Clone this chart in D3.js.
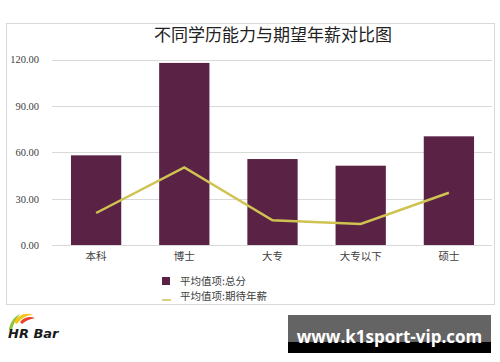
<!DOCTYPE html>
<html><head><meta charset="utf-8">
<script src="https://cdn.jsdelivr.net/npm/d3@7"></script>
<style>html,body{margin:0;padding:0;background:#fff;}svg{display:block;}</style>
</head><body>
<svg id="c" width="500" height="362"></svg>
<script>
const categories = ["本科", "博士", "大专", "大专以下", "硕士"];
const totalScore = [58.0, 117.8, 55.6, 51.3, 70.3];
const expectedSalary = [20.7, 50.2, 16.0, 13.6, 33.8];
const yTicks = [0, 30, 60, 90, 120];
const title = "不同学历能力与期望年薪对比图";
const legendLabels = ["平均值项:总分", "平均值项:期待年薪"];

const svg = d3.select("#c");
const barColor = "#5a2244", lineColor = "#cfc352";
const serif = "'Liberation Serif','DejaVu Serif',serif";
const cjk = "'Noto Sans CJK SC','Noto Sans CJK JP',sans-serif";

// frame
svg.append("rect").attr("x", 6.5).attr("y", 23.5).attr("width", 488).attr("height", 281)
  .attr("fill", "#fff").attr("stroke", "#d9d9d9").attr("stroke-width", 1);

svg.append("text").attr("x", 273).attr("y", 41).attr("text-anchor", "middle")
  .attr("font-family", cjk).attr("font-size", 17).attr("fill", "#222").text(title);

const x = d3.scaleBand().domain(categories).range([52, 493]).paddingInner(0.43).paddingOuter(0.215);
const y = d3.scaleLinear().domain([0, 120]).range([245, 59.5]);

// grid
svg.append("g").selectAll("line").data(yTicks).join("line")
  .attr("x1", 52).attr("x2", 492).attr("y1", d => Math.round(y(d)) + 0.5).attr("y2", d => Math.round(y(d)) + 0.5)
  .attr("stroke", "#d9d9d9").attr("stroke-width", 1);

// y axis labels
const yAxis = d3.axisLeft(y).tickValues(yTicks).tickFormat(d3.format(".2f")).tickSize(0).tickPadding(0);
const ya = svg.append("g").attr("transform", "translate(39,0)").call(yAxis);
ya.select(".domain").remove();
ya.selectAll("text").attr("font-family", serif).attr("font-size", 10.5).attr("fill", "#404040");

// bars
svg.append("g").selectAll("rect").data(categories).join("rect")
  .attr("x", d => x(d)).attr("width", x.bandwidth())
  .attr("y", (d, i) => y(totalScore[i])).attr("height", (d, i) => y(0) - y(totalScore[i]))
  .attr("fill", barColor);

// line
const line = d3.line().x((d, i) => x(categories[i]) + x.bandwidth() / 2).y(d => y(d));
svg.append("path").datum(expectedSalary).attr("d", line).attr("fill", "none")
  .attr("stroke", lineColor).attr("stroke-width", 2.5).attr("stroke-linejoin", "miter");

// x axis labels
const xAxis = d3.axisBottom(x).tickSize(0).tickPadding(0);
const xa = svg.append("g").attr("transform", "translate(0,253)").call(xAxis);
xa.select(".domain").remove();
xa.selectAll("text").attr("font-family", cjk).attr("font-size", 10.5).attr("fill", "#404040").attr("dy", "0.71em");

// legend
const lg = svg.append("g");
lg.append("rect").attr("x", 162).attr("y", 277).attr("width", 8).attr("height", 8).attr("fill", barColor);
lg.append("line").attr("x1", 162).attr("x2", 171).attr("y1", 300).attr("y2", 300).attr("stroke", lineColor).attr("stroke-width", 1.5);
lg.selectAll("text").data(legendLabels).join("text")
  .attr("x", 180).attr("y", (d, i) => 285 + i * 15)
  .attr("font-family", cjk).attr("font-size", 10.5).attr("fill", "#404040").text(d => d);

// logo
const logo = svg.append("g");
logo.append("path").attr("d", "M9,330 C10,322 14,317 20,314 C16,319 13,324 12,330 Z").attr("fill", "#8cc63f");
logo.append("path").attr("d", "M14,322 C18,315 26,312 33,315 C27,315 21,318 17,324 Z").attr("fill", "#f5c518");
logo.append("path").attr("d", "M20,322 C24,317 30,316 35,318 C30,319 25,321 22,324 Z").attr("fill", "#e8412c");
logo.append("text").attr("x", 8).attr("y", 338).attr("font-family", "'DejaVu Sans',sans-serif")
  .attr("font-weight", "bold").attr("font-style", "italic").attr("font-size", 13).attr("fill", "#1a1a1a").text("HR Bar");

// watermark
svg.append("rect").attr("x", 288).attr("y", 315).attr("width", 203).attr("height", 28).attr("fill", "#646464");
svg.append("rect").attr("x", 288).attr("y", 342).attr("width", 203).attr("height", 11).attr("fill", "#000");
svg.append("text").attr("x", 389.5).attr("y", 343).attr("text-anchor", "middle")
  .attr("font-family", "'Open Sans','DejaVu Sans',sans-serif").attr("font-weight", "bold").attr("font-size", 17)
  .attr("fill", "#fff").text("www.k1sport-vip.com");
</script>
</body></html>
